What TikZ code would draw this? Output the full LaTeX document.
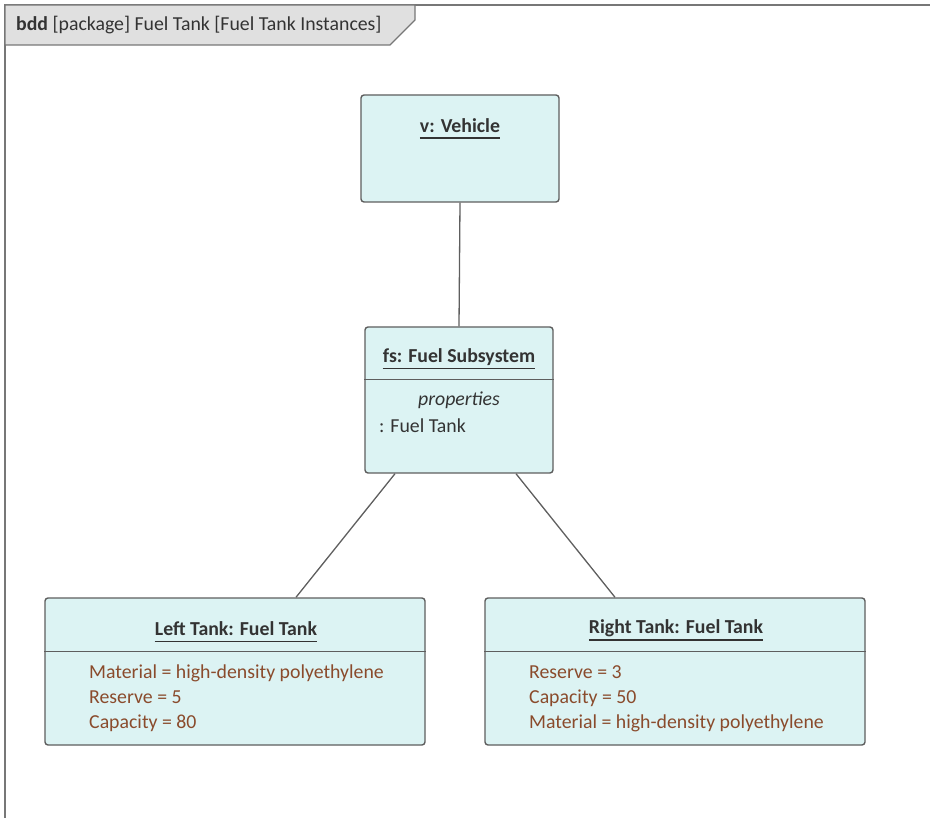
\documentclass[tikz,border=0pt]{standalone}
\usepackage{fontspec}
\setmainfont{Carlito}
\usepackage{tikz}
\usetikzlibrary{positioning,calc}
\definecolor{objB}{HTML}{5E5E5E}
\definecolor{objF}{HTML}{DCF3F3}
\definecolor{nameT}{HTML}{333333}
\definecolor{valT}{HTML}{8A4B2C}
\definecolor{frmB}{HTML}{777777}
\definecolor{tabF}{HTML}{E0E0E0}
\newcommand{\diagfont}{\fontsize{19.8}{25}\selectfont}
\tikzset{
 obj/.style={draw=objB, fill=objF, line width=1.4pt, rounded corners=3pt, inner sep=0pt},
 oname/.style={font=\diagfont\bfseries, text=nameT, inner sep=0pt},
 uline/.style={line width=1.6pt, draw=nameT},
 sep/.style={line width=1.4pt, draw=objB},
 vals/.style={align=left, text=valT, inner sep=0pt, anchor=north west},
 lin/.style={line width=1.3pt, draw=objB},
}
\begin{document}
\begin{tikzpicture}[x=1pt, y=-1pt, font=\diagfont]
\useasboundingbox (0,0) rectangle (930,818);
% frame
\draw[frmB, line width=2pt] (5,818) -- (5,5) -- (930,5);
\draw[frmB, line width=1.2pt, fill=tabF] (5,5) -- (415,5) -- (415,20) -- (390,45) -- (5,45) -- cycle;
\node[anchor=west, inner sep=0pt, text=nameT] (frm) at (16,25) {\textbf{bdd} [package] Fuel Tank [Fuel Tank Instances]};
% vehicle
\node[obj, minimum width=198, minimum height=107] (v) at (460,148.5) {};
\node[oname] (vn) at (460,126) {v: Vehicle};
\draw[uline] ([yshift=-5]vn.base west) -- ([yshift=-5]vn.base east);
% fuel subsystem
\node[obj, minimum width=188, minimum height=146] (fs) at (459,400) {};
\node[oname] (fsn) at (459,357) {fs: Fuel Subsystem};
\draw[uline] ([yshift=-6]fsn.base west) -- ([yshift=-6]fsn.base east);
\draw[sep] ([yshift=-53]fs.north west) -- ([yshift=-53]fs.north east);
\node[inner sep=0pt, text=nameT] (fsp) at (459,400) {\itshape properties};
\node[inner sep=0pt, text=nameT, anchor=west] (fsv) at (379,425.5) {: Fuel Tank};
% tanks
\node[obj, minimum width=380, minimum height=147] (lt) at (235,671.5) {};
\node[oname] (ltn) at (236,628.5) {Left Tank: Fuel Tank};
\draw[uline] ([yshift=-6]ltn.base west) -- ([yshift=-6]ltn.base east);
\draw[sep] ([yshift=-54]lt.north west) -- ([yshift=-54]lt.north east);
\node[vals] (ltv) at (89,665) {Material = high-density polyethylene\\ Reserve = 5\\ Capacity = 80};
\node[obj, minimum width=380, minimum height=147] (rt) at (675,671.5) {};
\node[oname] (rtn) at (676,628.5) {Right Tank: Fuel Tank};
\draw[uline] ([yshift=-6]rtn.base west) -- ([yshift=-6]rtn.base east);
\draw[sep] ([yshift=-54]rt.north west) -- ([yshift=-54]rt.north east);
\node[vals] (rtv) at (529,665) {Reserve = 3\\ Capacity = 50\\ Material = high-density polyethylene};
% links
\draw[lin] (v.south) -- (fs.north);
\draw[lin] ([xshift=-64]fs.south) -- ([xshift=61]lt.north);
\draw[lin] ([xshift=57]fs.south) -- ([xshift=-60]rt.north);
\end{tikzpicture}
\end{document}
